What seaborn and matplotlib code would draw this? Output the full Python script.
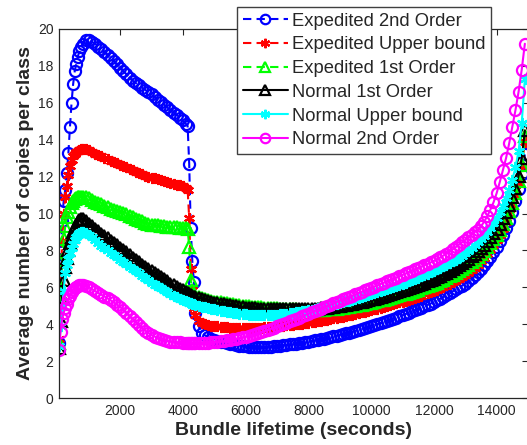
import matplotlib
matplotlib.use("Agg")
import matplotlib.pyplot as plt
import seaborn as sns
import pandas as pd

# ---------------- data ----------------
lifetime = [
    50, 100, 150, 200, 250, 300, 350, 400, 450, 500, 550, 600, 650, 700, 750, 800,
    900, 1000, 1100, 1200, 1300,
    1400, 1500, 1600, 1700, 1800, 1900, 2000, 2100, 2200, 2300, 2400, 2500, 2600, 2700,
    2800, 2900, 3000, 3100, 3200, 3300, 3400, 3500, 3600, 3700, 3800, 3900, 4000,
    4100, 4150, 4200, 4250, 4300, 4350,
    4400, 4500, 4600, 4700, 4800, 4900,
    5000, 5100, 5200, 5300, 5400, 5500, 5600, 5700, 5800, 5900,
    6000, 6100, 6200, 6300, 6400, 6500, 6600, 6700, 6800, 6900,
    7000, 7100, 7200, 7300, 7400, 7500, 7600, 7700, 7800, 7900,
    8000, 8100, 8200, 8300, 8400, 8500, 8600, 8700, 8800, 8900,
    9000, 9100, 9200, 9300, 9400, 9500, 9600, 9700, 9800, 9900,
    10000, 10100, 10200, 10300, 10400, 10500, 10600, 10700, 10800, 10900,
    11000, 11100, 11200, 11300, 11400, 11500, 11600, 11700, 11800, 11900,
    12000, 12100, 12200, 12300, 12400, 12500, 12600, 12700, 12800, 12900,
    13000, 13100, 13200, 13300, 13400, 13500, 13600, 13700, 13800, 13900,
    14000, 14100, 14200, 14300, 14400, 14500, 14600, 14700, 14800, 14900,
]

exp_2nd = [
    3.0, 7.5, 9.6, 10.7, 11.3, 12.2, 13.3, 14.7, 16.0, 17.0, 17.7, 18.1, 18.5, 18.8, 19.0, 19.2,
    19.4, 19.4, 19.3, 19.2, 19.05,
    18.9, 18.75, 18.6, 18.43, 18.25, 18.08, 17.9, 17.72, 17.55, 17.37, 17.2, 17.07, 16.95, 16.82,
    16.7, 16.57, 16.45, 16.3, 16.15, 16.02, 15.9, 15.75, 15.6, 15.47, 15.35, 15.2, 15.05,
    14.85, 14.75, 12.7, 9.2, 7.4, 6.3,
    4.6, 3.9, 3.55, 3.4, 3.3, 3.22,
    3.15, 3.1, 3.05, 3.01, 2.97, 2.93, 2.9, 2.87, 2.84, 2.82,
    2.8, 2.78, 2.77, 2.76, 2.76, 2.76, 2.77, 2.78, 2.79, 2.8,
    2.82, 2.84, 2.86, 2.88, 2.9, 2.92, 2.95, 2.97, 3.0, 3.03,
    3.06, 3.09, 3.12, 3.15, 3.19, 3.22, 3.26, 3.3, 3.34, 3.38,
    3.42, 3.46, 3.51, 3.55, 3.6, 3.65, 3.7, 3.75, 3.8, 3.85,
    3.9, 3.95, 4.01, 4.06, 4.12, 4.18, 4.24, 4.3, 4.36, 4.42,
    4.49, 4.55, 4.62, 4.69, 4.76, 4.83, 4.9, 4.97, 5.05, 5.12,
    5.2, 5.29, 5.38, 5.47, 5.57, 5.67, 5.78, 5.89, 5.99, 6.09,
    6.2, 6.34, 6.49, 6.65, 6.82, 7.0, 7.2, 7.42, 7.66, 7.92,
    8.2, 8.5, 8.83, 9.2, 9.62, 10.1, 10.66, 11.33, 12.15, 13.2,
]

exp_upper = [
    3.2, 6.0, 8.5, 10.0, 10.9, 11.5, 12.1, 12.6, 12.9, 13.1, 13.25, 13.35, 13.4, 13.45, 13.5, 13.5,
    13.5, 13.45, 13.35, 13.25, 13.18,
    13.1, 13.02, 12.95, 12.87, 12.8, 12.72, 12.65, 12.57, 12.5, 12.42, 12.35, 12.27, 12.2, 12.12,
    12.05, 12.0, 11.95, 11.9, 11.85, 11.8, 11.75, 11.7, 11.65, 11.6, 11.55, 11.52, 11.5,
    11.4, 11.3, 9.75, 7.0, 5.85, 4.9,
    4.5, 4.2, 4.05, 4.0, 3.95, 3.92,
    3.9, 3.88, 3.86, 3.84, 3.83, 3.82, 3.81, 3.8, 3.8, 3.8,
    3.8, 3.8, 3.8, 3.8, 3.81, 3.82, 3.83, 3.84, 3.85, 3.86,
    3.88, 3.89, 3.91, 3.93, 3.95, 3.97, 3.99, 4.01, 4.03, 4.05,
    4.08, 4.1, 4.13, 4.16, 4.19, 4.22, 4.25, 4.28, 4.31, 4.34,
    4.38, 4.41, 4.45, 4.48, 4.52, 4.56, 4.6, 4.64, 4.68, 4.72,
    4.76, 4.8, 4.85, 4.89, 4.94, 4.98, 5.03, 5.08, 5.13, 5.18,
    5.23, 5.28, 5.33, 5.38, 5.44, 5.49, 5.55, 5.61, 5.67, 5.73,
    5.79, 5.86, 5.94, 6.02, 6.1, 6.19, 6.28, 6.37, 6.46, 6.55,
    6.65, 6.78, 6.92, 7.07, 7.23, 7.4, 7.59, 7.8, 8.03, 8.28,
    8.55, 8.85, 9.18, 9.55, 9.97, 10.45, 11.0, 11.68, 12.55, 13.9,
]

exp_1st = [
    3.0, 5.5, 7.5, 8.6, 9.3, 9.8, 10.1, 10.35, 10.55, 10.7, 10.8, 10.85, 10.9, 10.9, 10.9, 10.9,
    10.9, 10.85, 10.75, 10.65, 10.58,
    10.5, 10.42, 10.35, 10.27, 10.2, 10.15, 10.1, 10.02, 9.95, 9.87, 9.8, 9.72, 9.65, 9.57,
    9.5, 9.45, 9.4, 9.37, 9.35, 9.32, 9.3, 9.27, 9.25, 9.25, 9.25, 9.22, 9.2,
    9.2, 9.15, 8.2, 6.4, 5.85, 5.6,
    5.5, 5.45, 5.4, 5.37, 5.33, 5.28,
    5.23, 5.2, 5.18, 5.15, 5.13, 5.1, 5.08, 5.05, 5.03, 5.0,
    4.98, 4.96, 4.95, 4.93, 4.92, 4.91, 4.9, 4.89, 4.88, 4.87,
    4.86, 4.85, 4.84, 4.83, 4.82, 4.81, 4.8, 4.79, 4.78, 4.77,
    4.77, 4.77, 4.77, 4.77, 4.78, 4.79, 4.8, 4.81, 4.83, 4.85,
    4.87, 4.89, 4.92, 4.94, 4.97, 5.0, 5.03, 5.06, 5.1, 5.13,
    5.17, 5.21, 5.25, 5.29, 5.33, 5.37, 5.42, 5.46, 5.51, 5.56,
    5.61, 5.66, 5.71, 5.76, 5.82, 5.88, 5.94, 6.0, 6.06, 6.12,
    6.19, 6.26, 6.34, 6.42, 6.5, 6.59, 6.68, 6.78, 6.88, 6.99,
    7.1, 7.22, 7.35, 7.49, 7.64, 7.8, 7.98, 8.17, 8.38, 8.6,
    8.85, 9.12, 9.42, 9.76, 10.14, 10.58, 11.1, 11.75, 12.65, 14.2,
]

norm_1st = [
    2.7, 4.2, 5.5, 6.4, 7.1, 7.6, 8.0, 8.4, 8.7, 9.0, 9.2, 9.4, 9.55, 9.65, 9.7, 9.72,
    9.6, 9.45, 9.3, 9.15, 9.03,
    8.9, 8.77, 8.65, 8.52, 8.4, 8.27, 8.15, 8.02, 7.9, 7.75, 7.6, 7.47, 7.35, 7.22,
    7.1, 7.0, 6.9, 6.77, 6.65, 6.55, 6.45, 6.32, 6.2, 6.1, 6.0, 5.92, 5.85,
    5.75, 5.7, 5.65, 5.6, 5.55, 5.5,
    5.45, 5.42, 5.38, 5.33, 5.27, 5.21,
    5.16, 5.13, 5.1, 5.07, 5.05, 5.02, 5.0, 4.97, 4.95, 4.92,
    4.9, 4.88, 4.87, 4.86, 4.85, 4.84, 4.83, 4.83, 4.82, 4.82,
    4.81, 4.81, 4.8, 4.8, 4.8, 4.8, 4.8, 4.8, 4.8, 4.81,
    4.82, 4.83, 4.84, 4.85, 4.87, 4.88, 4.9, 4.92, 4.95, 4.97,
    5.0, 5.03, 5.06, 5.09, 5.12, 5.15, 5.19, 5.23, 5.27, 5.31,
    5.35, 5.39, 5.44, 5.48, 5.53, 5.58, 5.63, 5.68, 5.73, 5.78,
    5.84, 5.89, 5.95, 6.01, 6.07, 6.13, 6.2, 6.26, 6.33, 6.4,
    6.47, 6.55, 6.63, 6.71, 6.8, 6.89, 6.99, 7.09, 7.2, 7.31,
    7.43, 7.56, 7.69, 7.83, 7.98, 8.14, 8.31, 8.5, 8.7, 8.92,
    9.16, 9.43, 9.73, 10.06, 10.44, 10.88, 11.4, 12.05, 13.0, 14.5,
]

norm_upper = [
    2.8, 3.9, 5.0, 5.8, 6.8, 7.2, 7.55, 7.85, 8.15, 8.35, 8.55, 8.72, 8.85, 8.95, 9.0, 9.0,
    8.95, 8.85, 8.7, 8.55, 8.4,
    8.25, 8.12, 8.0, 7.87, 7.75, 7.62, 7.5, 7.37, 7.25, 7.12, 7.0, 6.87, 6.75, 6.62,
    6.5, 6.37, 6.25, 6.15, 6.05, 5.95, 5.85, 5.75, 5.65, 5.55, 5.45, 5.37, 5.3,
    5.25, 5.2, 5.17, 5.13, 5.1, 5.07,
    5.04, 4.98, 4.94, 4.92, 4.9, 4.85,
    4.8, 4.76, 4.73, 4.7, 4.67, 4.64, 4.62, 4.59, 4.57, 4.55,
    4.53, 4.51, 4.5, 4.5, 4.49, 4.49, 4.49, 4.49, 4.5, 4.5,
    4.52, 4.53, 4.55, 4.57, 4.59, 4.61, 4.64, 4.67, 4.7, 4.73,
    4.76, 4.79, 4.83, 4.86, 4.9, 4.94, 4.98, 5.02, 5.06, 5.1,
    5.15, 5.19, 5.24, 5.28, 5.33, 5.38, 5.43, 5.48, 5.53, 5.58,
    5.63, 5.68, 5.74, 5.79, 5.85, 5.9, 5.96, 6.02, 6.08, 6.14,
    6.2, 6.26, 6.33, 6.39, 6.46, 6.53, 6.6, 6.67, 6.74, 6.81,
    6.89, 6.97, 7.05, 7.13, 7.22, 7.31, 7.4, 7.5, 7.6, 7.72,
    7.85, 7.98, 8.12, 8.27, 8.43, 8.6, 8.79, 9.0, 9.23, 9.48,
    9.76, 10.07, 10.42, 10.82, 11.28, 11.82, 12.5, 13.4, 14.9, 17.3,
]

norm_2nd = [
    2.6, 3.6, 4.3, 4.6, 4.9, 5.1, 5.35, 5.55, 5.75, 5.88, 5.97, 6.03, 6.08, 6.1, 6.12, 6.12,
    6.08, 6.0, 5.9, 5.8, 5.7,
    5.6, 5.5, 5.4, 5.29, 5.18, 5.06, 4.93, 4.78, 4.62, 4.45, 4.28, 4.11, 3.95, 3.8,
    3.65, 3.53, 3.42, 3.33, 3.25, 3.19, 3.13, 3.09, 3.06, 3.04, 3.02, 3.01, 3.0,
    2.99, 2.99, 2.98, 2.98, 2.98, 2.98,
    2.98, 2.98, 2.99, 2.99, 3.0, 3.01,
    3.03, 3.05, 3.07, 3.09, 3.12, 3.15, 3.18, 3.21, 3.25, 3.29,
    3.33, 3.37, 3.42, 3.47, 3.52, 3.57, 3.63, 3.69, 3.75, 3.81,
    3.88, 3.94, 4.01, 4.08, 4.15, 4.22, 4.29, 4.36, 4.43, 4.5,
    4.57, 4.64, 4.71, 4.78, 4.85, 4.92, 4.99, 5.06, 5.13, 5.2,
    5.27, 5.34, 5.41, 5.48, 5.55, 5.62, 5.69, 5.76, 5.83, 5.9,
    5.97, 6.04, 6.11, 6.18, 6.25, 6.32, 6.39, 6.46, 6.53, 6.6,
    6.67, 6.75, 6.82, 6.9, 6.97, 7.05, 7.12, 7.2, 7.27, 7.35,
    7.43, 7.52, 7.62, 7.72, 7.83, 7.94, 8.06, 8.18, 8.31, 8.44,
    8.57, 8.71, 8.85, 8.99, 9.12, 9.3, 9.55, 9.85, 10.2, 10.6,
    11.1, 11.7, 12.35, 13.0, 13.8, 14.7, 15.6, 16.6, 17.8, 19.2,
]

series_names = [
    "Expedited 2nd Order", "Expedited Upper bound", "Expedited 1st Order",
    "Normal 1st Order", "Normal Upper bound", "Normal 2nd Order",
]
series_values = [exp_2nd, exp_upper, exp_1st, norm_1st, norm_upper, norm_2nd]
series_colors = ["#0000ff", "#ff0000", "#00ff00", "#000000", "#00ffff", "#ff00ff"]
series_markers = ["o", (6, 2, 0), "^", "^", (6, 2, 0), "o"]
series_dashed = [True, True, True, False, False, False]

x_ticks = [2000, 4000, 6000, 8000, 10000, 12000, 14000]
y_ticks = [0, 2, 4, 6, 8, 10, 12, 14, 16, 18, 20]

# ---------------- style ----------------
sns.set_theme(style="white")
plt.rcParams["font.family"] = ["Liberation Sans", "DejaVu Sans"]

W, H = 527, 445
fig = plt.figure(figsize=(W / 100, H / 100), dpi=100)
ax_l, ax_r, ax_t, ax_b = 59, 528, 29, 398
ax = fig.add_axes([ax_l / W, 1 - ax_b / H, (ax_r - ax_l) / W, (ax_b - ax_t) / H])

frames = []
for name, vals in zip(series_names, series_values):
    frames.append(pd.DataFrame({"lifetime": lifetime, "copies": vals, "series": name}))
df = pd.concat(frames, ignore_index=True)

for name, color, marker, dashed in zip(series_names, series_colors, series_markers, series_dashed):
    sub = df[df["series"] == name]
    kw = dict(linestyle=(0, (4, 2.5)) if dashed else "-")
    sns.lineplot(
        data=sub, x="lifetime", y="copies", ax=ax, color=color, label=name,
        marker=marker, markersize=8, markerfacecolor="none",
        markeredgecolor=color, markeredgewidth=1.6, linewidth=1.5,
        sort=False, estimator=None, **kw,
    )

ax.set_xlim(50, 15000)
ax.set_ylim(0, 20)
ax.set_xticks(x_ticks)
ax.set_yticks(y_ticks)
ax.tick_params(direction="in", length=4, width=0.8, top=True, right=True,
               labelsize=10, labelcolor="#262626", color="#262626", pad=4)
for sp in ax.spines.values():
    sp.set_color("#262626")
    sp.set_linewidth(0.9)

ax.set_xlabel("Bundle lifetime (seconds)", fontsize=14, fontweight="bold", labelpad=3)
ax.set_ylabel("Average number of copies per class", fontsize=14, fontweight="bold", labelpad=3)

leg = ax.legend(
    loc="upper left", bbox_to_anchor=(237 / W, 1 - 7 / H), bbox_transform=fig.transFigure,
    fontsize=13.2, frameon=True, fancybox=False, framealpha=1, edgecolor="#404040",
    handlelength=2.5, handletextpad=0.2, borderpad=0.3, labelspacing=0.37,
    borderaxespad=0, numpoints=1, markerscale=0.85,
)
leg.get_frame().set_linewidth(1.0)

fig.savefig("out.png", dpi=100)
